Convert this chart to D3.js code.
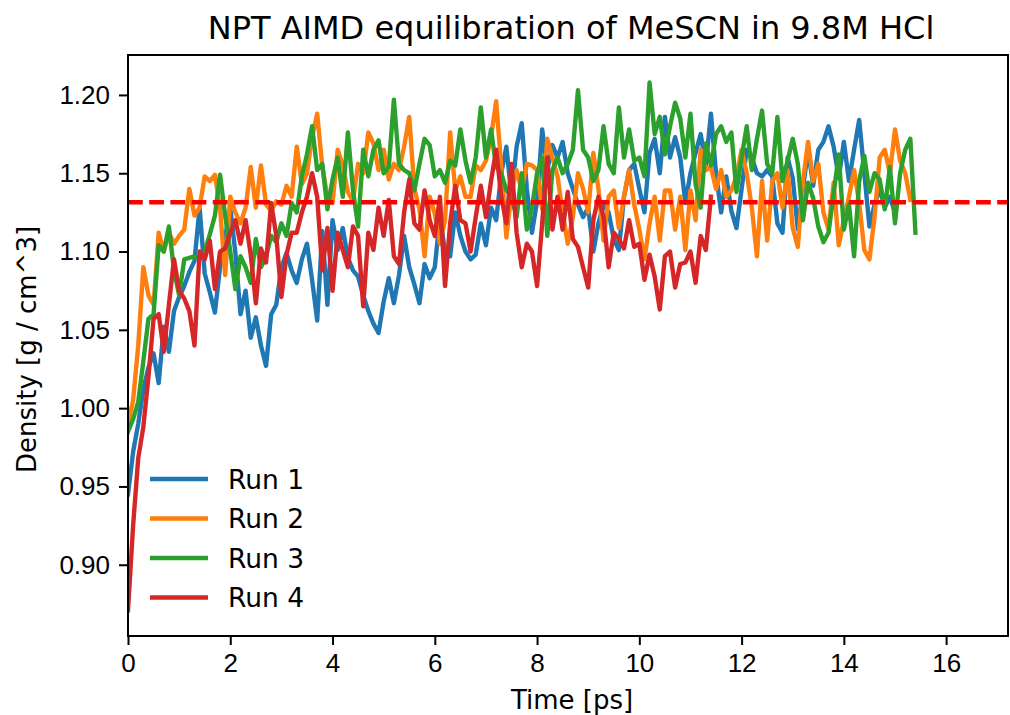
<!DOCTYPE html>
<html lang="en">
<head>
  <meta charset="UTF-8">
  <title>NPT AIMD equilibration of MeSCN in 9.8M HCl</title>
  <script src="https://d3js.org/d3.v7.min.js"></script>
  <style>
    body, html {
      margin: 0;
      padding: 0;
      background: #fff;
    }
    svg {
      display: block;
      font-family: "DejaVu Sans", sans-serif;
    }
    .tick text {
      font-size: 26px;
      fill: #000;
    }
    .tick line {
      stroke: #000;
      stroke-width: 2px;
    }
    .run-line {
      fill: none;
      stroke-width: 4.4px;
      stroke-linejoin: round;
      stroke-linecap: square;
    }
    .title {
      font-size: 32px;
      text-anchor: middle;
    }
    .axis-label {
      font-size: 26px;
      text-anchor: middle;
    }
    .legend text {
      font-size: 26.5px;
    }
  </style>
</head>
<body>

  <svg width="1010" height="715"></svg>

  <script>
    // density (g/cm^3) sampled every 0.1 ps
    const timeStep = 0.1;

    const run1 = [
      0.945, 0.972, 0.990, 1.012, 1.026, 1.035, 1.016, 1.052, 1.036, 1.062,
      1.071, 1.078, 1.087, 1.094, 1.128, 1.086, 1.074, 1.061, 1.090, 1.109,
      1.128, 1.099, 1.060, 1.075, 1.045, 1.058, 1.040, 1.027, 1.060, 1.066,
      1.090, 1.099, 1.088, 1.080, 1.095, 1.105, 1.082, 1.056, 1.113, 1.066,
      1.120, 1.101, 1.115, 1.096, 1.088, 1.084, 1.072, 1.062, 1.054, 1.048,
      1.068, 1.083, 1.067, 1.085, 1.110, 1.090, 1.079, 1.067, 1.092, 1.083,
      1.090, 1.122, 1.100, 1.097, 1.125, 1.110, 1.100, 1.095, 1.098, 1.118,
      1.104, 1.128, 1.120, 1.150, 1.167, 1.135, 1.167, 1.182, 1.140, 1.112,
      1.132, 1.178, 1.152, 1.168, 1.160, 1.170, 1.150, 1.140, 1.130, 1.122,
      1.128, 1.100, 1.118, 1.130, 1.125, 1.108, 1.101, 1.135, 1.152, 1.156,
      1.140, 1.125, 1.163, 1.172, 1.150, 1.186, 1.160, 1.173, 1.160, 1.131,
      1.150, 1.163, 1.175, 1.155, 1.188, 1.150, 1.125, 1.148, 1.126, 1.115,
      1.140, 1.165, 1.160, 1.150, 1.148, 1.152, 1.148, 1.118, 1.112, 1.160,
      1.147, 1.114, 1.140, 1.165, 1.142, 1.165, 1.170, 1.180, 1.167, 1.147,
      1.170, 1.145, 1.165, 1.184, 1.150, 1.116, 1.130, 1.140, 1.128, 1.135,
      1.125
    ];

    const run2 = [
      0.990, 1.005, 1.040, 1.090, 1.072, 1.066, 1.112, 1.100, 1.112, 1.105,
      1.110, 1.114, 1.140, 1.123, 1.128, 1.148, 1.145, 1.149, 1.128, 1.085,
      1.135, 1.125, 1.118, 1.128, 1.154, 1.128, 1.155, 1.130, 1.126, 1.132,
      1.130, 1.142, 1.135, 1.167, 1.143, 1.150, 1.173, 1.188, 1.154, 1.135,
      1.131, 1.165, 1.155, 1.138, 1.132, 1.156, 1.150, 1.176, 1.169, 1.152,
      1.165, 1.146, 1.156, 1.152, 1.167, 1.186, 1.140, 1.127, 1.097, 1.135,
      1.124, 1.105, 1.120, 1.176, 1.139, 1.148, 1.135, 1.135, 1.155, 1.152,
      1.158, 1.173, 1.196, 1.154, 1.109, 1.138, 1.152, 1.139, 1.156, 1.155,
      1.152, 1.127, 1.172, 1.160, 1.148, 1.125, 1.105, 1.122, 1.150, 1.140,
      1.125, 1.163, 1.140, 1.107, 1.135, 1.139, 1.115, 1.135, 1.152, 1.130,
      1.114, 1.095, 1.118, 1.135, 1.107, 1.139, 1.139, 1.114, 1.135, 1.101,
      1.139, 1.120, 1.165, 1.152, 1.154, 1.140, 1.152, 1.135, 1.139, 1.148,
      1.165, 1.150, 1.128, 1.097, 1.145, 1.107, 1.145, 1.150, 1.128, 1.152,
      1.115, 1.103, 1.145, 1.170, 1.145, 1.156, 1.125, 1.114, 1.144, 1.104,
      1.120, 1.135, 1.152, 1.131, 1.101, 1.095, 1.122, 1.160, 1.165, 1.150,
      1.178, 1.158, 1.150, 1.133
    ];

    const run3 = [
      0.985, 0.993, 1.004, 1.030, 1.057, 1.060, 1.104, 1.100, 1.116, 1.088,
      1.072, 1.095, 1.096, 1.097, 1.095, 1.100, 1.111, 1.123, 1.149, 1.123,
      1.100, 1.076, 1.097, 1.090, 1.080, 1.108, 1.090, 1.097, 1.110, 1.106,
      1.118, 1.110, 1.131, 1.125, 1.148, 1.162, 1.180, 1.152, 1.156, 1.127,
      1.146, 1.160, 1.135, 1.176, 1.139, 1.116, 1.165, 1.148, 1.165, 1.171,
      1.150, 1.154, 1.197, 1.156, 1.152, 1.150, 1.139, 1.156, 1.172, 1.168,
      1.148, 1.152, 1.144, 1.158, 1.155, 1.178, 1.158, 1.144, 1.160, 1.192,
      1.160, 1.178, 1.154, 1.150, 1.139, 1.135, 1.122, 1.150, 1.114, 1.128,
      1.150, 1.160, 1.110, 1.152, 1.160, 1.150, 1.156, 1.165, 1.203, 1.165,
      1.160, 1.145, 1.152, 1.180, 1.156, 1.150, 1.192, 1.160, 1.178, 1.158,
      1.160, 1.148, 1.208, 1.175, 1.186, 1.162, 1.180, 1.195, 1.185, 1.160,
      1.188, 1.143, 1.128, 1.169, 1.155, 1.175, 1.180, 1.170, 1.176, 1.138,
      1.160, 1.180, 1.152, 1.172, 1.190, 1.156, 1.150, 1.186, 1.145, 1.158,
      1.172, 1.156, 1.120, 1.144, 1.134, 1.116, 1.106, 1.112, 1.137, 1.162,
      1.114, 1.130, 1.097, 1.145, 1.161, 1.138, 1.150, 1.146, 1.127, 1.154,
      1.118, 1.150, 1.165, 1.172, 1.112
    ];

    const run4 = [
      0.871, 0.925, 0.968, 0.988, 1.020, 1.057, 1.060, 1.036, 1.066, 1.095,
      1.075, 1.070, 1.062, 1.040, 1.100, 1.095, 1.107, 1.076, 1.100, 1.102,
      1.112, 1.120, 1.105, 1.120, 1.098, 1.067, 1.102, 1.093, 1.131, 1.110,
      1.071, 1.098, 1.112, 1.112, 1.125, 1.135, 1.150, 1.135, 1.088, 1.115,
      1.075, 1.112, 1.101, 1.090, 1.116, 1.110, 1.065, 1.112, 1.101, 1.128,
      1.110, 1.133, 1.097, 1.092, 1.125, 1.146, 1.118, 1.114, 1.139, 1.120,
      1.110, 1.135, 1.078, 1.118, 1.142, 1.120, 1.118, 1.100, 1.122, 1.142,
      1.122, 1.145, 1.165, 1.135, 1.118, 1.156, 1.112, 1.090, 1.105, 1.100,
      1.078, 1.118, 1.160, 1.114, 1.135, 1.114, 1.138, 1.108, 1.103, 1.090,
      1.077, 1.120, 1.135, 1.122, 1.090, 1.112, 1.108, 1.102, 1.120, 1.103,
      1.105, 1.082, 1.098, 1.084, 1.063, 1.097, 1.100, 1.077, 1.092, 1.093,
      1.100, 1.080, 1.110, 1.101, 1.135
    ];

    const runNames = ["Run 1", "Run 2", "Run 3", "Run 4"];
    const runColors = ["#1f77b4", "#ff7f0e", "#2ca02c", "#d62728"];
    const referenceDensity = 1.1315;

    const xTicks = [0, 2, 4, 6, 8, 10, 12, 14, 16];
    const yTicks = [0.90, 0.95, 1.00, 1.05, 1.10, 1.15, 1.20];

    const runs = [run1, run2, run3, run4];

    const width = 1010;
    const height = 715;
    const margin = { top: 55, right: 2, bottom: 79, left: 128 };

    const svg = d3.select("svg");

    const x = d3.scaleLinear()
      .domain([0, 17.21])
      .range([margin.left, width - margin.right]);

    const y = d3.scaleLinear()
      .domain([0.8545, 1.2255])
      .range([height - margin.bottom, margin.top]);

    svg.append("clipPath")
      .attr("id", "plot-clip")
      .append("rect")
      .attr("x", margin.left)
      .attr("y", margin.top)
      .attr("width", width - margin.left - margin.right)
      .attr("height", height - margin.top - margin.bottom);

    const line = d3.line()
      .x((d, i) => x(i * timeStep))
      .y(d => y(d));

    const plot = svg.append("g").attr("clip-path", "url(#plot-clip)");

    plot.selectAll(".run-line")
      .data(runs)
      .enter().append("path")
      .attr("class", "run-line")
      .attr("stroke", (d, i) => runColors[i])
      .attr("d", line);

    // average density reference
    plot.append("line")
      .attr("x1", margin.left)
      .attr("x2", width - margin.right)
      .attr("y1", y(referenceDensity))
      .attr("y2", y(referenceDensity))
      .attr("stroke", "red")
      .attr("stroke-width", 4.4)
      .attr("stroke-dasharray", "14.8 6.4");

    // axes
    svg.append("g")
      .attr("transform", `translate(0,${height - margin.bottom})`)
      .call(d3.axisBottom(x).tickValues(xTicks).tickSize(9).tickSizeOuter(0).tickPadding(9))
      .call(g => g.select(".domain").remove())
      .call(g => g.selectAll("text").attr("font-family", null));

    svg.append("g")
      .attr("transform", `translate(${margin.left},0)`)
      .call(d3.axisLeft(y).tickValues(yTicks).tickFormat(d3.format(".2f")).tickSize(9).tickSizeOuter(0).tickPadding(9))
      .call(g => g.select(".domain").remove())
      .call(g => g.selectAll("text").attr("font-family", null));

    svg.selectAll(".tick text").attr("font-size", null);

    svg.append("rect")
      .attr("x", margin.left)
      .attr("y", margin.top)
      .attr("width", width - margin.left - margin.right)
      .attr("height", height - margin.top - margin.bottom)
      .attr("fill", "none")
      .attr("stroke", "#000")
      .attr("stroke-width", 2);

    const midX = (margin.left + width - margin.right) / 2;

    svg.append("text")
      .attr("class", "title")
      .attr("x", midX + 3)
      .attr("y", 39)
      .text("NPT AIMD equilibration of MeSCN in 9.8M HCl");

    svg.append("text")
      .attr("class", "axis-label")
      .attr("x", midX + 4)
      .attr("y", 709)
      .text("Time [ps]");

    svg.append("text")
      .attr("class", "axis-label")
      .attr("transform", `translate(36,${(margin.top + height - margin.bottom) / 2 + 4}) rotate(-90)`)
      .text("Density [g / cm^3]");

    // legend, no frame, lower left
    const legend = svg.selectAll(".legend")
      .data(runNames)
      .enter().append("g")
      .attr("class", "legend")
      .attr("transform", (d, i) => `translate(${margin.left + 22},${479 + i * 39.5})`);

    legend.append("line")
      .attr("x1", 0)
      .attr("x2", 58)
      .attr("stroke", (d, i) => runColors[i])
      .attr("stroke-width", 4.4);

    legend.append("text")
      .attr("x", 78)
      .attr("dy", "0.36em")
      .text(d => d);
  </script>
</body>
</html>
